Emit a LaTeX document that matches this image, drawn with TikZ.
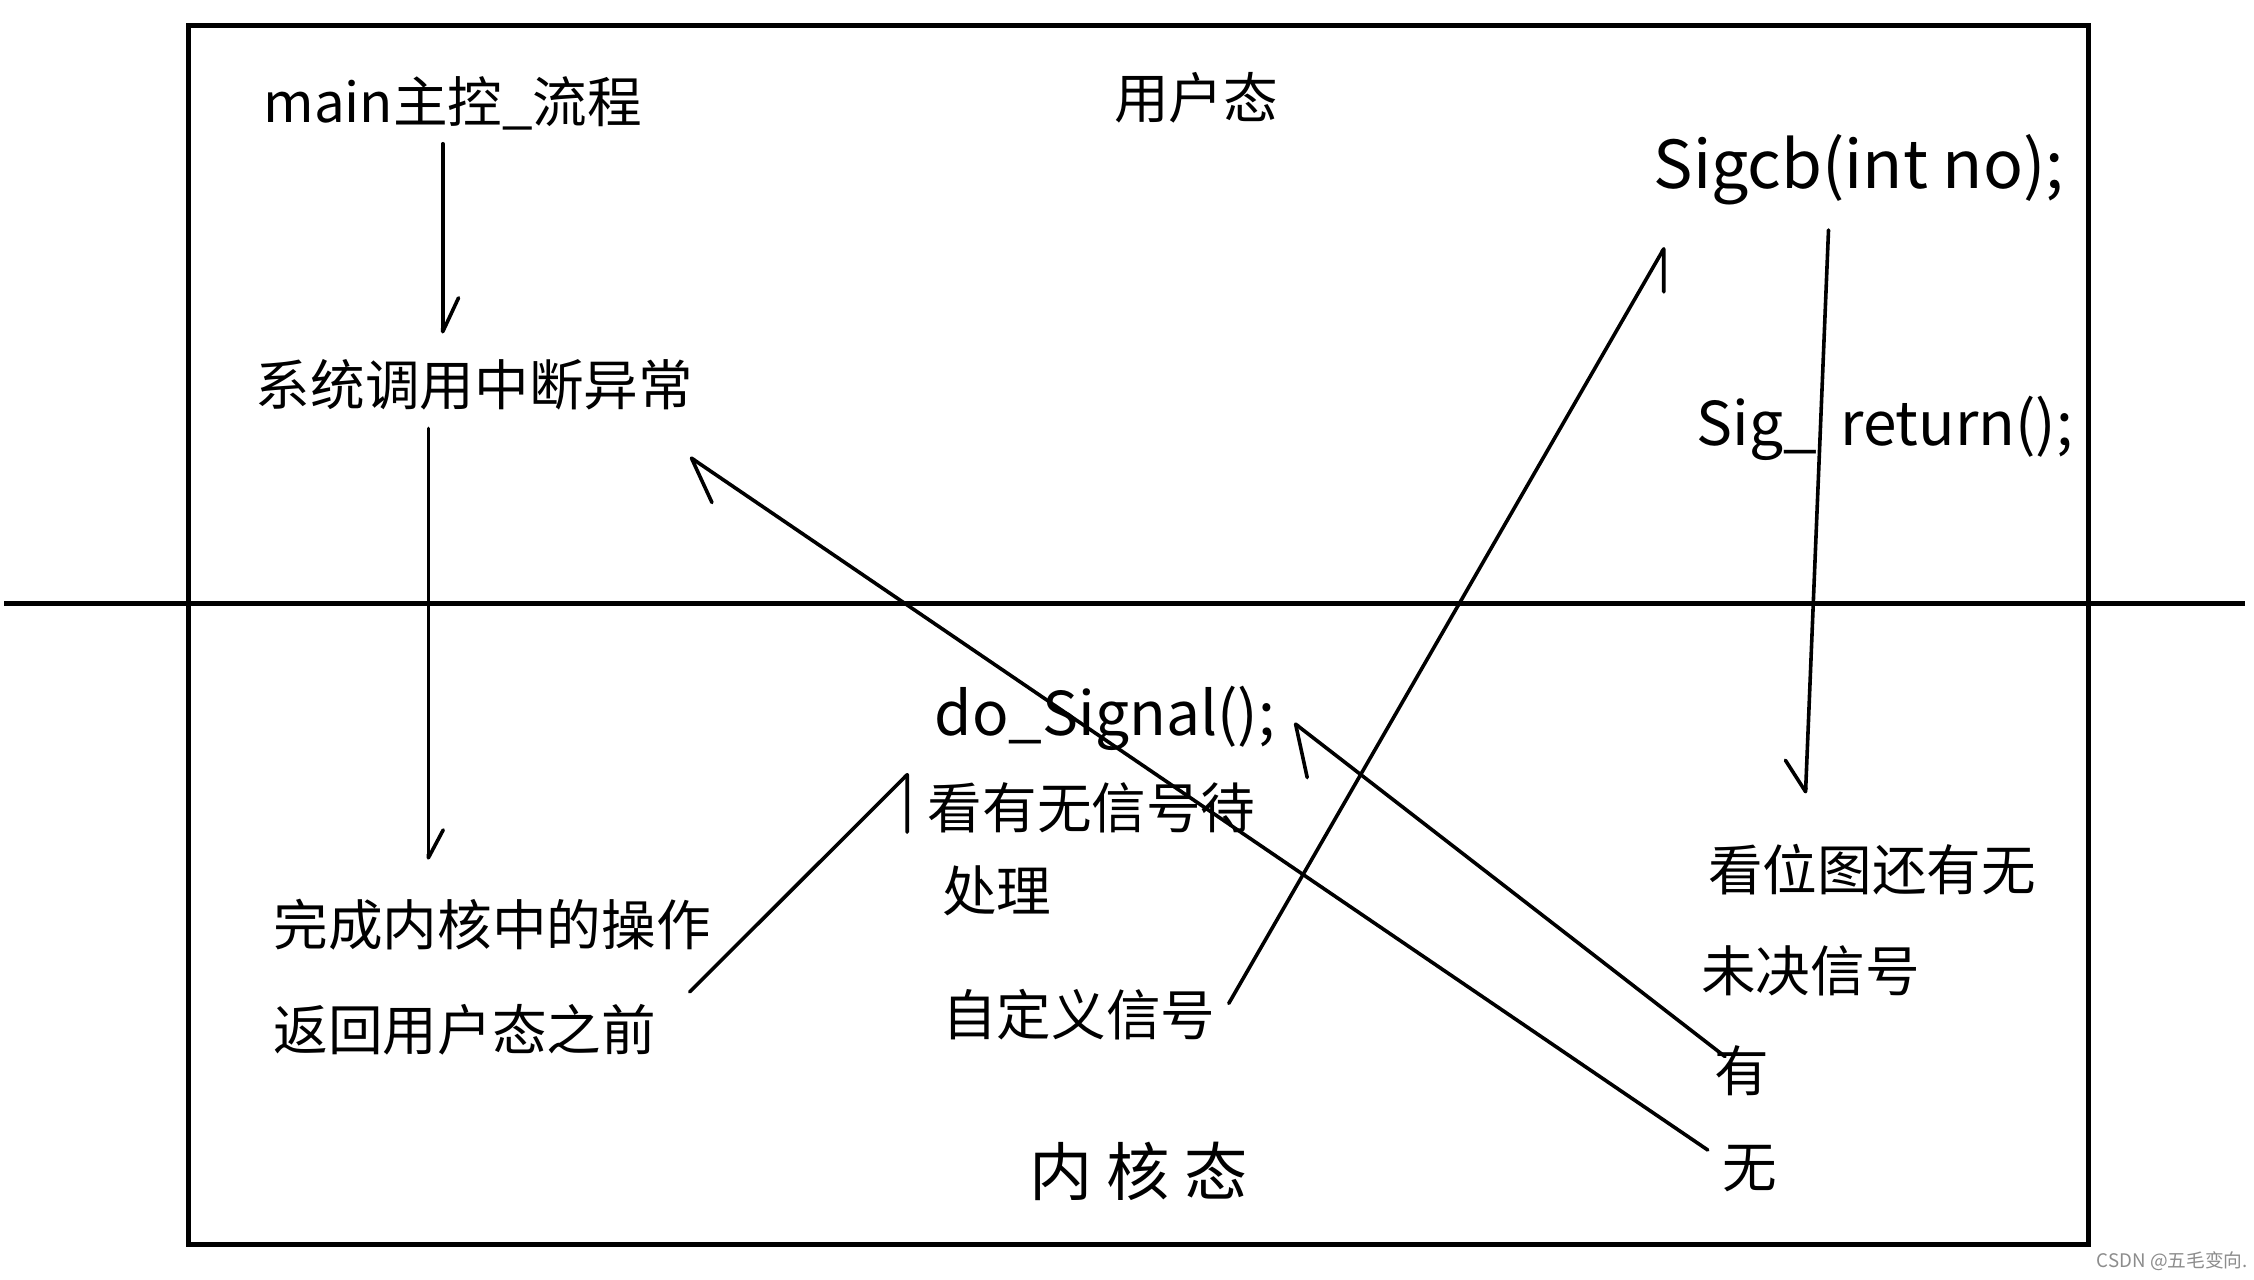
\documentclass[tikz,border=0pt]{standalone}
\usepackage{fontspec}
\newfontfamily\cjk{Noto Sans CJK SC}
\usetikzlibrary{arrows.meta,calc}
\begin{document}
\begin{tikzpicture}[x=0.5pt,y=-0.5pt,
  lbl/.style={inner sep=0pt, font=\cjk\fontsize{19}{23}\selectfont},
  code/.style={inner sep=0pt, font=\cjk\fontsize{21}{25}\selectfont},
  conn/.style={line width=1.25pt, line cap=round, line join=round},
  frameline/.style={line width=1.7pt},
  barbL/.style={-{Straight Barb[harpoon,round,angle=#1]}},
  barbR/.style={-{Straight Barb[harpoon,swap,round,angle=#1]}}]
\useasboundingbox (0,0) rectangle (1568,890);
\fill[white] (0,0) rectangle (1568,890);
\draw[frameline] (131,18) rectangle (1453,866);
\draw[frameline] (3,420) -- (1562,420);

% labels
\node[lbl] (user) at (832,68) {用户态};
\node[lbl] (kernel) at (792,815) {\fontsize{22}{26}\selectfont 内\hspace{5pt}核\hspace{5pt}态};
\node[lbl] (main) at (315,72) {main主控\_流程};
\node[lbl] (sys) at (330,268) {系统调用中断异常};
\node[lbl, anchor=west] (done) at (190,643) {完成内核中的操作};
\node[lbl, anchor=west] (ret) at (190,716) {返回用户态之前};
\node[code, anchor=west] (dosigA) at (650,500) {do\_Signal();};
\node[lbl, anchor=west] (dosigB) at (645,562) {看有无信号待};
\node[lbl, anchor=west] (dosigC) at (655,620) {处理};
\node[lbl, anchor=west] (zdy) at (655,706) {自定义信号};
\node[code] (sigcb) at (1293,118) {\fontsize{23}{27}\selectfont Sigcb(int no);};
\node[code, anchor=west] (sigret) at (1180,298) {Sig\_\hspace{8pt}return();};
\node[lbl, anchor=west] (bitmap) at (1188,605) {看位图还有无};
\node[lbl, anchor=west] (weijue) at (1183,675) {未决信号};
\node[lbl] (you) at (1212,745) {有};
\node[lbl] (wu) at (1217,813) {无};
\node[inner sep=0pt, anchor=east, font=\cjk\fontsize{6.5}{8}\selectfont, text=black!45] (wm) at (1564,877) {CSDN @五毛变向.};

% connectors
\draw[conn, barbL=50:13pt] ($(main.center)+(-7,28)$) -- ($(sys.center)+(-22,-36)$);
\draw[conn, barbL=56:11pt] ($(sys.center)+(-32,30)$) -- ($(done.west)+(108,-45)$);
\draw[conn, barbR=90:20pt] ($(ret.east)+(23,-26)$) -- ($(dosigB.west)+(-13,-24)$);
\draw[conn, barbR=60:15pt] ($(zdy.east)+(9,-8)$) -- ($(sigcb.center)+(-135,54)$);
\draw[conn, barbR=70:13pt] ($(sigcb.center)+(-21,42)$) -- ($(bitmap.west)+(68,-53)$);
\draw[conn, barbL=80:19pt] ($(you.center)+(-12,-10)$) -- ($(dosigA.east)+(13,3)$);
\draw[conn, barbL=62:17pt] ($(wu.center)+(-29,-13)$) -- ($(sys.center)+(150,50)$);
\end{tikzpicture}
\end{document}
